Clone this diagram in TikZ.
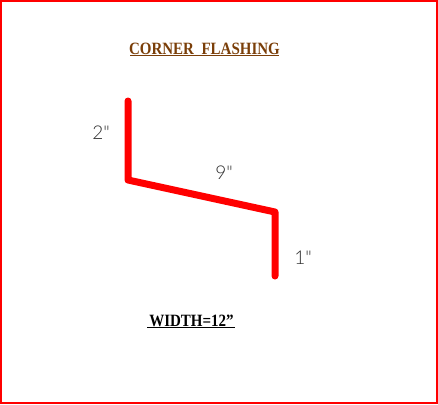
\documentclass[tikz,border=0pt]{standalone}
\usepackage{fontspec}
\setmainfont{Liberation Serif}
\newfontfamily\dimfont{Lato Light}
\definecolor{titlebrown}{RGB}{122,62,8}
\definecolor{dimgrey}{RGB}{45,45,45}
\begin{document}
\begin{tikzpicture}[x=1pt,y=-1pt,
  frame/.style={draw=red,line width=2pt},
  flashing/.style={draw=red,line width=7pt,line cap=round,line join=round},
  dimlabel/.style={font=\dimfont\fontsize{19}{19}\selectfont,text=dimgrey,inner sep=0pt},
  titlelabel/.style={font=\bfseries\fontsize{15}{16}\selectfont,text=titlebrown,inner sep=0pt},
  widthlabel/.style={font=\bfseries\fontsize{15}{16}\selectfont,text=black,inner sep=0pt},
  rule/.style={line width=1pt}]
\useasboundingbox (0,0) rectangle (438,404);
\draw[frame] (1,1) rectangle (437,403);
\coordinate (p1) at (128,101);
\coordinate (p2) at (128,180);
\coordinate (p3) at (275,212);
\coordinate (p4) at (275,276);
\draw[flashing] (p1) -- (p2) -- (p3) -- (p4);
\node[titlelabel] (title) at (204.5,48.5) {\scalebox{1}[1.15]{CORNER\hspace{0.5em}FLASHING}};
\draw[rule,titlebrown] (130,55.5) -- (279,55.5);
\node[dimlabel] (a) at (101,132.5) {2\symbol{34}};
\node[dimlabel] (b) at (224,172.5) {9\symbol{34}};
\node[dimlabel] (c) at (303,257.5) {1\symbol{34}};
\node[widthlabel] (w) at (191.5,320.5) {\scalebox{1}[1.15]{WIDTH=12\symbol{34}}};
\draw[rule,black] (147,327) -- (235,327);
\end{tikzpicture}
\end{document}
